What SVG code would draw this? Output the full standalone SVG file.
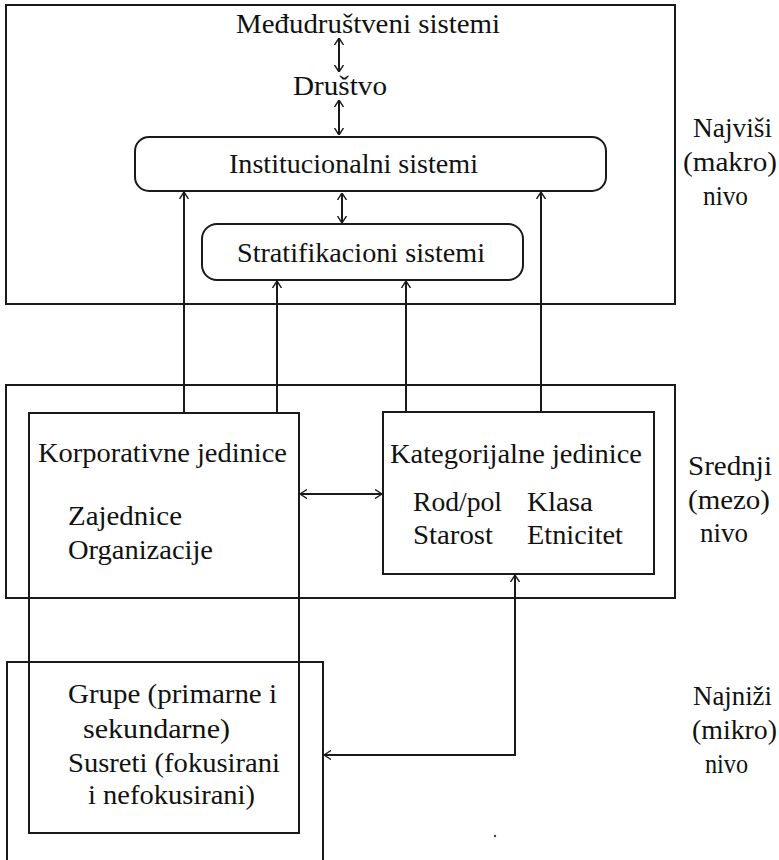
<svg xmlns="http://www.w3.org/2000/svg" width="779" height="860" viewBox="0 0 779 860">
<style>
.box{fill:none;stroke:#1a1a1a;stroke-width:2}
.ln{fill:none;stroke:#1a1a1a;stroke-width:2}
.t{font-family:'Liberation Serif',Tinos,'Nimbus Roman','Nimbus Roman No9 L',FreeSerif,Times,'DejaVu Serif','Noto Serif',Georgia,serif;font-size:28px;fill:#111}
</style>
<defs>
<marker id="ah" viewBox="0 0 7 10" refX="7" refY="5" markerWidth="7" markerHeight="10" markerUnits="userSpaceOnUse" orient="auto-start-reverse">
<path d="M0,0.5 L7,5 L0,9.5" fill="none" stroke="#1a1a1a" stroke-width="1.4"/>
</marker>
</defs>
<rect width="779" height="860" fill="#fff"/>

<g id="makro-level">
<rect class="box" x="6" y="5" width="669" height="299"/>
</g>
<g id="medjudrustveni">
<text class="t" x="236" y="33" textLength="264" lengthAdjust="spacingAndGlyphs">Međudruštveni sistemi</text>
</g>
<g id="drustvo">
<text class="t" x="293" y="95" textLength="94" lengthAdjust="spacingAndGlyphs">Društvo</text>
</g>
<g id="institucionalni">
<rect class="box" x="135" y="137" width="471" height="54" rx="14"/>
<text class="t" x="229" y="173" textLength="249" lengthAdjust="spacingAndGlyphs">Institucionalni sistemi</text>
</g>
<g id="stratifikacioni">
<rect class="box" x="202" y="224" width="321" height="56" rx="15"/>
<text class="t" x="237" y="262" textLength="248" lengthAdjust="spacingAndGlyphs">Stratifikacioni sistemi</text>
</g>
<g id="label-makro">
<text class="t" x="693" y="137" textLength="79" lengthAdjust="spacingAndGlyphs">Najviši</text>
<text class="t" x="683" y="171" textLength="94" lengthAdjust="spacingAndGlyphs">(makro)</text>
<text class="t" x="703" y="205" textLength="45" lengthAdjust="spacingAndGlyphs">nivo</text>
</g>

<g id="mezo-level">
<rect class="box" x="6" y="385" width="669" height="213"/>
</g>
<g id="korporativne">
<rect class="box" x="29" y="413" width="270" height="420"/>
<text class="t" x="38" y="462" textLength="249" lengthAdjust="spacingAndGlyphs">Korporativne jedinice</text>
<text class="t" x="68" y="525" textLength="114" lengthAdjust="spacingAndGlyphs">Zajednice</text>
<text class="t" x="68" y="559" textLength="145" lengthAdjust="spacingAndGlyphs">Organizacije</text>
</g>
<g id="kategorijalne">
<rect class="box" x="383" y="412" width="271" height="162"/>
<text class="t" x="390" y="463" textLength="252" lengthAdjust="spacingAndGlyphs">Kategorijalne jedinice</text>
<text class="t" x="413" y="511" textLength="89" lengthAdjust="spacingAndGlyphs">Rod/pol</text>
<text class="t" x="527" y="511" textLength="66" lengthAdjust="spacingAndGlyphs">Klasa</text>
<text class="t" x="413" y="544" textLength="80" lengthAdjust="spacingAndGlyphs">Starost</text>
<text class="t" x="527" y="544" textLength="96" lengthAdjust="spacingAndGlyphs">Etnicitet</text>
</g>
<g id="label-mezo">
<text class="t" x="688" y="475" textLength="84" lengthAdjust="spacingAndGlyphs">Srednji</text>
<text class="t" x="688" y="509" textLength="82" lengthAdjust="spacingAndGlyphs">(mezo)</text>
<text class="t" x="700" y="542" textLength="48" lengthAdjust="spacingAndGlyphs">nivo</text>
</g>

<g id="mikro-level">
<path class="box" d="M7,862 V662 H323 V862"/>
<text class="t" x="68" y="703" textLength="209" lengthAdjust="spacingAndGlyphs">Grupe (primarne i</text>
<text class="t" x="83" y="738" textLength="147" lengthAdjust="spacingAndGlyphs">sekundarne)</text>
<text class="t" x="68" y="772" textLength="212" lengthAdjust="spacingAndGlyphs">Susreti (fokusirani</text>
<text class="t" x="88" y="804" textLength="167" lengthAdjust="spacingAndGlyphs">i nefokusirani)</text>
</g>
<g id="label-mikro">
<text class="t" x="693" y="705" textLength="79" lengthAdjust="spacingAndGlyphs">Najniži</text>
<text class="t" x="692" y="739" textLength="85" lengthAdjust="spacingAndGlyphs">(mikro)</text>
<text class="t" x="705" y="773" textLength="43" lengthAdjust="spacingAndGlyphs">nivo</text>
</g>

<g id="connectors">
<line class="ln" x1="339" y1="38" x2="339" y2="72" marker-start="url(#ah)" marker-end="url(#ah)"/>
<line class="ln" x1="339" y1="100" x2="339" y2="135" marker-start="url(#ah)" marker-end="url(#ah)"/>
<line class="ln" x1="342" y1="193" x2="342" y2="223" marker-start="url(#ah)" marker-end="url(#ah)"/>
<line class="ln" x1="184" y1="413" x2="184" y2="192" marker-end="url(#ah)"/>
<line class="ln" x1="277" y1="413" x2="277" y2="281" marker-end="url(#ah)"/>
<line class="ln" x1="406" y1="412" x2="406" y2="281" marker-end="url(#ah)"/>
<line class="ln" x1="541" y1="412" x2="541" y2="192" marker-end="url(#ah)"/>
<line class="ln" x1="300" y1="494" x2="382" y2="494" marker-start="url(#ah)" marker-end="url(#ah)"/>
<polyline class="ln" points="324,755 515,755 515,575" marker-start="url(#ah)" marker-end="url(#ah)"/>
</g>
<circle cx="495" cy="836" r="1.2" fill="#444"/>
</svg>
